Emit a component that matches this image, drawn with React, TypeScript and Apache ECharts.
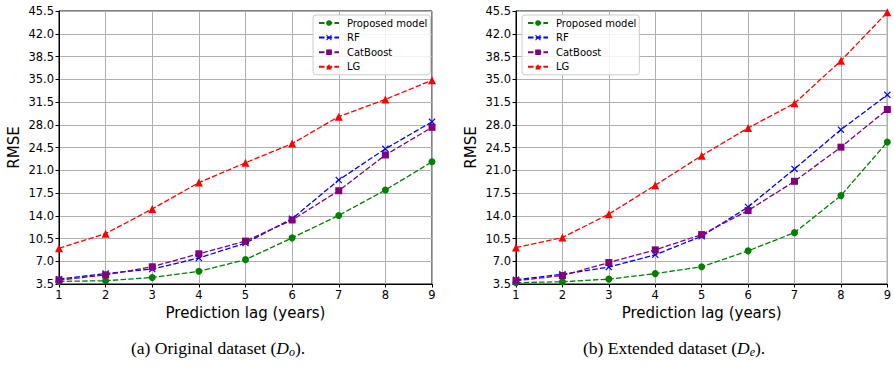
import React, { useEffect, useRef } from "react";
import * as echarts from "echarts";

const lags = [1, 2, 3, 4, 5, 6, 7, 8, 9];
const seriesNames = ["Proposed model", "RF", "CatBoost", "LG"];

// (a) Original dataset
const origProposed = [3.9, 4.0, 4.5, 5.45, 7.25, 10.6, 14.05, 17.95, 22.3];
const origRF = [4.25, 5.1, 5.8, 7.5, 9.8, 13.55, 19.5, 24.3, 28.45];
const origCatBoost = [4.1, 4.9, 6.15, 8.15, 10.1, 13.35, 17.85, 23.35, 27.6];
const origLG = [9.0, 11.25, 15.05, 19.1, 22.15, 25.1, 29.25, 31.9, 34.85];

// (b) Extended dataset
const extProposed = [3.7, 3.85, 4.25, 5.1, 6.15, 8.6, 11.4, 17.1, 25.35];
const extRF = [4.15, 5.0, 6.1, 8.0, 10.85, 15.35, 21.2, 27.25, 32.6];
const extCatBoost = [4.0, 4.8, 6.8, 8.75, 11.1, 14.8, 19.3, 24.55, 30.35];
const extLG = [9.1, 10.65, 14.25, 18.7, 23.25, 27.5, 31.3, 37.85, 45.3];

const yMin = 3.5;
const yMax = 45.5;
const yStep = 3.5;

const colors = ["#008000", "#0000ff", "#800080", "#ff0000"];
const XPATH = "path://M0,1.2L1.2,0L5,3.8L8.8,0L10,1.2L6.2,5L10,8.8L8.8,10L5,6.2L1.2,10L0,8.8L3.8,5Z";
const symbols = ["circle", XPATH, "rect", "triangle"];
const symbolSizes = [7, 7, 7, 8];

export default function App() {
  const ref = useRef<HTMLDivElement>(null);
  useEffect(() => {
    if (!ref.current) return;
    const chart = echarts.init(ref.current, undefined, { renderer: "svg" });
    const font = "DejaVu Sans";
    const grids = [
      { left: 59, top: 11, width: 373, height: 273 },
      { left: 516, top: 11, width: 373, height: 273 },
    ];
    const mkX = (i: number) => ({
      type: "value",
      gridIndex: i,
      min: 1,
      max: 9,
      interval: 1,
      name: "Prediction lag (years)",
      nameLocation: "middle",
      nameGap: 16,
      nameTextStyle: { fontFamily: font, fontSize: 15, color: "#000" },
      axisLine: { show: true, onZero: false, lineStyle: { color: "#000", width: 1 } },
      axisTick: { show: true, length: 3.5, lineStyle: { color: "#000" } },
      axisLabel: { fontFamily: font, fontSize: 11.5, color: "#000", margin: 5 },
      splitLine: { show: true, lineStyle: { color: "#b0b0b0", width: 1 } },
    });
    const mkY = (i: number) => ({
      type: "value",
      gridIndex: i,
      min: yMin,
      max: yMax,
      interval: yStep,
      name: "RMSE",
      nameLocation: "middle",
      nameRotate: 90,
      nameGap: 38,
      nameTextStyle: { fontFamily: font, fontSize: 15, color: "#000" },
      axisLine: { show: true, lineStyle: { color: "#000", width: 1 } },
      axisTick: { show: true, length: 3.5, lineStyle: { color: "#000" } },
      axisLabel: {
        fontFamily: font,
        fontSize: 11.5,
        color: "#000",
        margin: 5,
        formatter: (v: number) => v.toFixed(1),
      },
      splitLine: { show: true, lineStyle: { color: "#b0b0b0", width: 1 } },
    });
    const datasets = [
      [origProposed, origRF, origCatBoost, origLG],
      [extProposed, extRF, extCatBoost, extLG],
    ];
    const series: any[] = [];
    datasets.forEach((set, gi) => {
      set.forEach((vals, si) => {
        series.push({
          type: "line",
          name: seriesNames[si],
          xAxisIndex: gi,
          yAxisIndex: gi,
          data: vals.map((v, k) => [lags[k], v]),
          symbol: symbols[si],
          symbolSize: symbolSizes[si],
          showSymbol: true,
          lineStyle: { color: colors[si], width: 1.3, type: [5.5, 2.2] },
          itemStyle: { color: colors[si] },
          z: 3,
        });
      });
    });
    const mkLegend = (left: number) => ({
      show: true,
      orient: "vertical",
      left,
      top: 15,
      itemWidth: 20,
      itemHeight: 7,
      itemGap: 2.6,
      padding: [2, 3, 2, 5],
      backgroundColor: "rgba(255,255,255,0.85)",
      borderColor: "#cccccc",
      borderWidth: 1,
      borderRadius: 3,
      data: seriesNames,
      textStyle: { fontFamily: font, fontSize: 10, lineHeight: 12, color: "#000", padding: [0, 0, 0, 3] },
    });
    const capRich = {
      a: { fontFamily: "Liberation Serif", fontSize: 17.5, fill: "#000" },
      i: { fontFamily: "Liberation Serif", fontSize: 17.5, fontStyle: "italic", fill: "#000" },
      s: { fontFamily: "Liberation Serif", fontSize: 12, fontStyle: "italic", fill: "#000", padding: [7, 0, 0, 0] },
    };
    chart.setOption({
      animation: false,
      backgroundColor: "#fff",
      grid: grids.map((g) => ({ ...g, show: true, borderColor: "#000", borderWidth: 1, backgroundColor: "transparent" })),
      xAxis: [mkX(0), mkX(1)],
      yAxis: [mkY(0), mkY(1)],
      legend: [mkLegend(313), mkLegend(522)],
      series,
      graphic: [
        {
          type: "text",
          left: 131,
          top: 339,
          style: { text: "{a|(a) Original dataset (}{i|D}{s|o}{a|).}", rich: capRich },
        },
        {
          type: "text",
          left: 583,
          top: 339,
          style: { text: "{a|(b) Extended dataset (}{i|D}{s|e}{a|).}", rich: capRich },
        },
      ],
    });
    return () => chart.dispose();
  }, []);
  return (
    <div
      ref={ref}
      style={{ position: "absolute", left: 0, top: 0, width: 894, height: 366 }}
    />
  );
}
